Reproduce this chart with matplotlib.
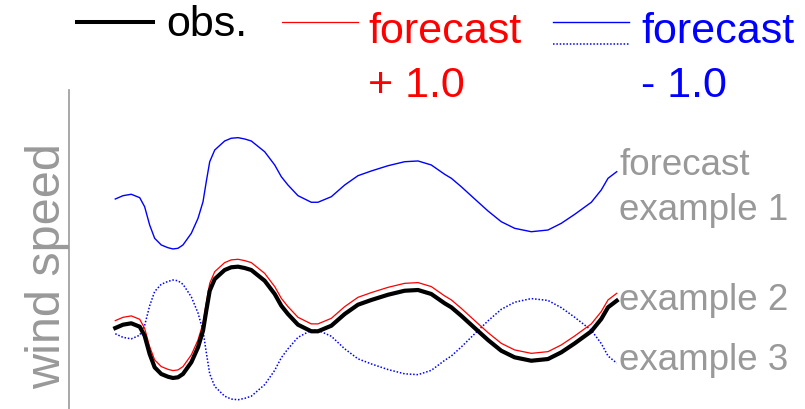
import matplotlib
matplotlib.use("Agg")
import matplotlib.pyplot as plt
from matplotlib.lines import Line2D

plt.rcParams["font.family"] = ["Liberation Sans", "DejaVu Sans"]

# time (hours) and wind speed
hours = [0.0, 0.74, 1.53, 2.34, 2.81, 3.29, 3.77, 4.40, 5.04, 5.52, 6.00, 6.48,
         7.28, 7.92, 8.40, 8.71, 9.04, 9.52, 10.47, 11.10, 11.75, 12.39, 13.02, 14.30,
         15.26, 15.89, 16.53, 17.49, 18.76, 19.40, 20.68, 21.96, 23.23, 24.51,
         26.11, 27.70, 28.98, 30.25, 31.53, 32.17, 33.12, 34.41, 35.68, 36.95,
         38.23, 39.82, 41.42, 42.70, 43.98, 45.57, 46.52, 47.17, 48.0]

obs = [7.93, 8.38, 8.57, 8.11, 6.89, 4.42, 2.62, 1.72, 1.35, 1.18, 1.27, 1.72,
       3.30, 5.32, 7.57, 10.27, 12.97, 14.55, 15.77, 16.14, 16.22, 16.04, 15.77, 14.32,
       12.53, 10.95, 9.82, 8.38, 7.49, 7.49, 8.24, 9.82, 11.08, 11.72,
       12.43, 12.97, 13.07, 12.53, 11.27, 10.73, 9.59, 7.93, 6.31, 4.86,
       3.97, 3.51, 3.74, 4.65, 5.86, 7.49, 9.15, 10.73, 11.62]

fc_plus = [8.93, 9.38, 9.57, 9.11, 7.89, 5.42, 3.62, 2.72, 2.35, 2.18, 2.27, 2.72,
           4.30, 6.32, 8.57, 11.27, 13.97, 15.55, 16.77, 17.14, 17.22, 17.04, 16.77, 15.32,
           13.53, 11.95, 10.82, 9.38, 8.49, 8.49, 9.24, 10.82, 12.08, 12.72,
           13.43, 13.97, 14.07, 13.53, 12.27, 11.73, 10.59, 8.93, 7.31, 5.86,
           4.97, 4.51, 4.74, 5.65, 6.86, 8.49, 10.15, 11.73, 12.62]

fc_ex1 = [6.93, 7.38, 7.57, 7.11, 5.89, 3.42, 1.62, 0.72, 0.35, 0.18, 0.27, 0.72,
          2.30, 4.32, 6.57, 9.27, 11.97, 13.55, 14.77, 15.14, 15.22, 15.04, 14.77, 13.32,
          11.53, 9.95, 8.82, 7.38, 6.49, 6.49, 7.24, 8.82, 10.08, 10.72,
          11.43, 11.97, 12.07, 11.53, 10.27, 9.73, 8.59, 6.93, 5.31, 3.86,
          2.97, 2.51, 2.74, 3.65, 4.86, 6.49, 8.15, 9.73, 10.62]

fc_ex3 = [7.16, 6.67, 6.47, 6.96, 8.28, 10.93, 12.87, 13.84, 14.23, 14.42, 14.32, 13.84,
          12.14, 9.96, 7.54, 4.64, 1.74, 0.04, -1.28, -1.67, -1.76, -1.57, -1.28, 0.28,
          2.21, 3.91, 5.12, 6.67, 7.63, 7.63, 6.82, 5.12, 3.77, 3.08,
          2.32, 1.74, 1.63, 2.21, 3.56, 4.15, 5.37, 7.16, 8.90, 10.46,
          11.42, 11.91, 11.66, 10.68, 9.38, 7.63, 5.84, 4.15, 3.19]

gray = "#999999"

fig = plt.figure(figsize=(8.05, 4.10), dpi=100)

# upper panel: forecast example 1
ax1 = fig.add_axes([0.1432, 0.3871, 0.6229, 0.31405])
ax1.plot(hours, fc_ex1, color="blue", lw=1.0, solid_joinstyle="round", clip_on=False)
ax1.set_xlim(0, 48)
ax1.set_ylim(0, 17.4)
ax1.axis("off")

# lower panel: obs, forecast + 1.0, example 3
ax2 = fig.add_axes([0.1432, 0.0002, 0.6229, 0.3682])
ax2.plot(hours, fc_ex3, color="blue", lw=1.1, ls=(0, (1, 1.2)), clip_on=False)
ax2.plot(hours, fc_plus, color="red", lw=0.9, solid_joinstyle="round", clip_on=False)
ax2.plot(hours, obs, color="black", lw=3.0, solid_joinstyle="round", clip_on=False)
ax2.set_xlim(0, 48)
ax2.set_ylim(-3, 17.4)
ax2.axis("off")


def fx(px):
    return px / 805.0


def fy(py):
    return 1 - py / 410.0


# legend drawn by hand
fig.add_artist(Line2D([fx(77), fx(153)], [fy(22.7), fy(22.7)], color="black", lw=2.9))
fig.add_artist(Line2D([fx(282), fx(358)], [fy(22.7), fy(22.7)], color="red", lw=0.9))
fig.add_artist(Line2D([fx(553), fx(629)], [fy(23.3), fy(23.3)], color="blue", lw=1.0))
fig.add_artist(Line2D([fx(553), fx(629)], [fy(45), fy(45)], color="blue", lw=1.1, ls=(0, (1, 1.2))))

fig.text(fx(166), fy(36), "obs.", fontsize=31, color="black", va="baseline")
fig.text(fx(368), fy(43.3), "forecast", fontsize=31, color="red", va="baseline")
fig.text(fx(368), fy(96.7), "+ 1.0", fontsize=31, color="red", va="baseline")
fig.text(fx(641), fy(43.3), "forecast", fontsize=31, color="blue", va="baseline")
fig.text(fx(641), fy(96.7), "- 1.0", fontsize=31, color="blue", va="baseline")

# labels on the right
fig.text(fx(619), fy(175), "forecast", fontsize=26.5, color=gray, va="baseline")
fig.text(fx(619), fy(220), "example 1", fontsize=26.5, color=gray, va="baseline")
fig.text(fx(619), fy(310), "example 2", fontsize=26.5, color=gray, va="baseline")
fig.text(fx(619), fy(370), "example 3", fontsize=26.5, color=gray, va="baseline")

# y label and its axis line
fig.text(fx(47.5), fy(266), "wind speed", fontsize=35, color=gray,
         rotation=90, ha="center", va="center")
fig.add_artist(Line2D([fx(69), fx(69)], [fy(91), fy(410)], color=gray, lw=1.2))

fig.savefig("out.png", dpi=100)
